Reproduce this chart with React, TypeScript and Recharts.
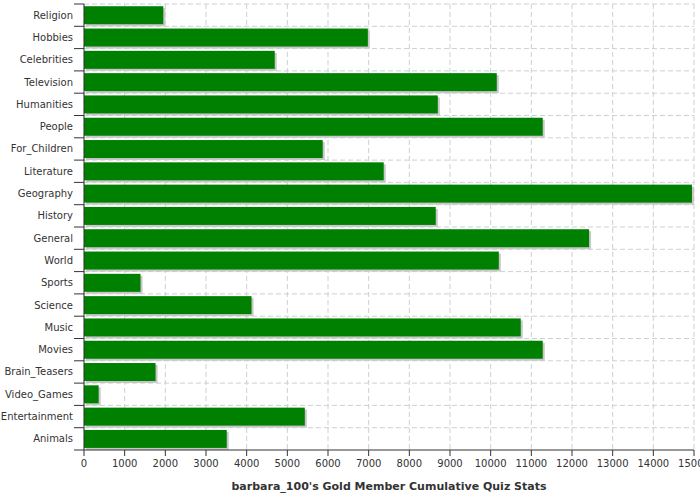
import React from "react";
import { Bar, BarChart, CartesianGrid, Label, XAxis, YAxis } from "recharts";

const categories = [
  "Religion",
  "Hobbies",
  "Celebrities",
  "Television",
  "Humanities",
  "People",
  "For_Children",
  "Literature",
  "Geography",
  "History",
  "General",
  "World",
  "Sports",
  "Science",
  "Music",
  "Movies",
  "Brain_Teasers",
  "Video_Games",
  "Entertainment",
  "Animals",
];

const scores = [
  1950, 6980, 4690, 10150, 8700, 11280, 5870, 7370, 14950, 8650, 12420, 10200, 1390, 4120, 10740, 11280,
  1760, 360, 5430, 3510,
];

const xTicks = [0, 1000, 2000, 3000, 4000, 5000, 6000, 7000, 8000, 9000, 10000, 11000, 12000, 13000, 14000, 15000];

const title = "barbara_100's Gold Member Cumulative Quiz Stats";

const data = categories.map((name, i) => ({ name, value: scores[i] }));

const WIDTH = 700;
const HEIGHT = 500;
const MARGIN = { top: 4, right: 6, bottom: 0, left: 0 };
const X_AXIS_HEIGHT = 50;
const PLOT_HEIGHT = HEIGHT - MARGIN.top - MARGIN.bottom - X_AXIS_HEIGHT;
const BAND = PLOT_HEIGHT / categories.length;
const FONT = "DejaVu Sans";
const AXIS_COLOR = "#333333";
const GRID_COLOR = "#cbd0d4";

function ShadowBar(props: any) {
  const { x, y, width, height } = props;
  if (!width || width <= 0) return null;
  return (
    <g>
      <rect x={x + 2} y={y + 2} width={width} height={height} fill="#c8c8c8" />
      <rect x={x} y={y} width={width} height={height} fill="#008000" />
    </g>
  );
}

function CategoryTick(props: any) {
  const { x, y, payload, index } = props;
  const lineStart = x + 1;
  const lineEnd = x + 11;
  return (
    <g>
      <line x1={lineStart} x2={lineEnd} y1={y - BAND / 2} y2={y - BAND / 2} stroke={AXIS_COLOR} />
      {index === categories.length - 1 && (
        <line x1={lineStart} x2={lineEnd} y1={y + BAND / 2} y2={y + BAND / 2} stroke={AXIS_COLOR} />
      )}
      <text x={x} y={y} dy={3.5} textAnchor="end" fontSize={10} fontFamily={FONT} fill="#333">
        {payload.value}
      </text>
    </g>
  );
}

export default function App() {
  return (
    <div style={{ position: "absolute", left: 0, top: 0, background: "#fff" }}>
      <BarChart
        width={WIDTH}
        height={HEIGHT}
        data={data}
        layout="vertical"
        margin={MARGIN}
        barCategoryGap="10%"
      >
        <CartesianGrid
          stroke={GRID_COLOR}
          strokeDasharray="5 3"
          horizontalCoordinatesGenerator={({ offset }: any) =>
            categories.map((_, i) => offset.top + (i * offset.height) / categories.length)
          }
        />
        <XAxis
          type="number"
          domain={[0, 15000]}
          ticks={xTicks}
          interval={0}
          height={X_AXIS_HEIGHT}
          tickSize={6}
          tickMargin={4}
          stroke={AXIS_COLOR}
          tick={{ fontSize: 10, fontFamily: FONT, fill: "#333" }}
        >
          <Label
            value={title}
            position="insideBottom"
            offset={10}
            style={{ fontSize: 11, fontWeight: "bold", fontFamily: FONT, fill: "#333" }}
          />
        </XAxis>
        <XAxis xAxisId="top" orientation="top" type="number" domain={[0, 15000]} height={0} tick={false} tickLine={false} stroke={AXIS_COLOR} />
        <YAxis
          type="category"
          dataKey="name"
          width={84}
          tickSize={10}
          tickMargin={1}
          tickLine={false}
          interval={0}
          stroke={AXIS_COLOR}
          tick={<CategoryTick />}
        />
        <YAxis yAxisId="right" orientation="right" type="category" dataKey="name" width={0} tick={false} tickLine={false} stroke={AXIS_COLOR} />
        <Bar dataKey="value" shape={<ShadowBar />} isAnimationActive={false} />
      </BarChart>
    </div>
  );
}
